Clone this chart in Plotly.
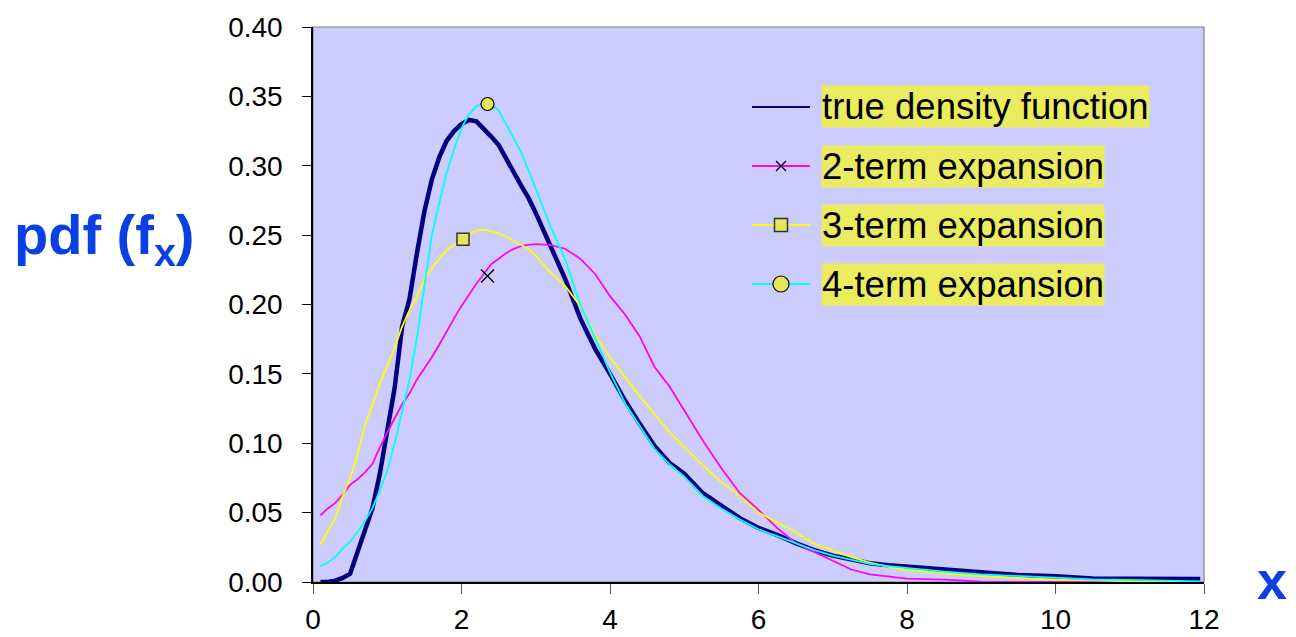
import plotly.graph_objects as go

# ---------------- data ----------------
x_vals = [0.1, 0.2, 0.3, 0.4, 0.5, 0.6, 0.7, 0.8, 0.9, 1.0, 1.1, 1.2, 1.3, 1.4, 1.5,
          1.6, 1.7, 1.8, 1.9, 2.0, 2.1, 2.2, 2.3, 2.4, 2.5, 2.6, 2.7, 2.8, 2.9, 3.0,
          3.2, 3.4, 3.6, 3.8, 4.0, 4.2, 4.4, 4.6, 4.8, 5.0, 5.25, 5.5, 5.75, 6.0,
          6.25, 6.5, 6.75, 7.0, 7.25, 7.5, 7.75, 8.0, 8.5, 9.0, 9.5, 10.0, 10.5,
          11.0, 11.5, 11.95]

true_density = [0.000, 0.000, 0.001, 0.003, 0.006, 0.022, 0.037, 0.053, 0.078, 0.108,
                0.140, 0.184, 0.204, 0.237, 0.267, 0.290, 0.306, 0.318, 0.325, 0.330,
                0.333, 0.332, 0.327, 0.321, 0.315, 0.305, 0.295, 0.286, 0.277, 0.266,
                0.242, 0.218, 0.190, 0.168, 0.150, 0.131, 0.114, 0.098, 0.086, 0.078,
                0.064, 0.055, 0.046, 0.039, 0.034, 0.028, 0.023, 0.019, 0.016, 0.0135,
                0.012, 0.011, 0.009, 0.0065, 0.005, 0.0042, 0.0026, 0.0024, 0.0023, 0.0022]

two_term = [0.048, 0.053, 0.057, 0.063, 0.070, 0.074, 0.079, 0.085, 0.097, 0.108,
            0.118, 0.128, 0.136, 0.146, 0.154, 0.162, 0.171, 0.181, 0.190, 0.199,
            0.207, 0.215, 0.222, 0.229, 0.233, 0.237, 0.240, 0.242, 0.243, 0.2435,
            0.243, 0.240, 0.233, 0.222, 0.206, 0.193, 0.177, 0.155, 0.141, 0.124,
            0.102, 0.082, 0.064, 0.052, 0.039, 0.028, 0.0216, 0.0156, 0.009, 0.0055,
            0.004, 0.0025, 0.0017, 0.0003, 0.0, 0.0, 0.0, 0.0, 0.0, 0.0]

three_term = [0.027, 0.036, 0.046, 0.062, 0.075, 0.092, 0.113, 0.128, 0.143, 0.156,
              0.169, 0.184, 0.196, 0.206, 0.218, 0.226, 0.233, 0.239, 0.243, 0.247,
              0.251, 0.253, 0.254, 0.253, 0.251, 0.249, 0.246, 0.243, 0.240, 0.235,
              0.223, 0.213, 0.199, 0.178, 0.162, 0.148, 0.134, 0.121, 0.108, 0.097,
              0.084, 0.072, 0.062, 0.050, 0.043, 0.036, 0.0276, 0.023, 0.018, 0.014,
              0.011, 0.009, 0.0062, 0.0043, 0.0027, 0.0015, 0.0011, 0.0003, 0.0, 0.0]

four_term = [0.0115, 0.014, 0.018, 0.024, 0.029, 0.036, 0.044, 0.053, 0.066, 0.080,
             0.100, 0.123, 0.146, 0.176, 0.212, 0.250, 0.273, 0.295, 0.312, 0.327,
             0.337, 0.343, 0.345, 0.344, 0.340, 0.330, 0.320, 0.310, 0.297, 0.283,
             0.256, 0.232, 0.200, 0.176, 0.151, 0.129, 0.112, 0.096, 0.085, 0.076,
             0.062, 0.053, 0.045, 0.038, 0.033, 0.028, 0.023, 0.019, 0.016, 0.013,
             0.0115, 0.010, 0.0075, 0.0055, 0.0042, 0.0032, 0.0018, 0.0015, 0.0012, 0.0005]

# single marker points drawn on each expansion curve
marker_x = [2.35, 2.02, 2.35]
marker_y = [0.2205, 0.247, 0.3445]

series_names = ["true density function", "2-term expansion",
                "3-term expansion", "4-term expansion"]
x_ticks = [0, 2, 4, 6, 8, 10, 12]
y_ticks = [0.00, 0.05, 0.10, 0.15, 0.20, 0.25, 0.30, 0.35, 0.40]

# ---------------- style ----------------
NAVY, MAGENTA, YELLOW, CYAN = "#000080", "#FF00FF", "#FFFF00", "#00FFFF"
PLOT_BG = "#CCCCFF"
LEG_BG = "#EBEB60"
MARK_FILL = "#E6E65C"
BLUE = "#0B3FE6"
FONT = "Arial, Liberation Sans, sans-serif"

W, H = 1296, 637
L, R, T, B = 313, 1204, 27, 582


def pxx(px):
    return (px - L) / (R - L)


def pyy(py):
    return (B - py) / (B - T)


fig = go.Figure()

fig.add_trace(go.Scatter(x=x_vals, y=true_density, mode="lines", name=series_names[0],
                         line=dict(color=NAVY, width=4.5)))
fig.add_trace(go.Scatter(x=x_vals, y=two_term, mode="lines", name=series_names[1],
                         line=dict(color=MAGENTA, width=1.8)))
fig.add_trace(go.Scatter(x=x_vals, y=three_term, mode="lines", name=series_names[2],
                         line=dict(color=YELLOW, width=1.8)))
fig.add_trace(go.Scatter(x=x_vals, y=four_term, mode="lines", name=series_names[3],
                         line=dict(color=CYAN, width=1.8)))

# markers
fig.add_trace(go.Scatter(x=[marker_x[0]], y=[marker_y[0]], mode="markers", showlegend=False,
                         marker=dict(symbol="x-thin", size=13, line=dict(color="black", width=1.3))))
fig.add_trace(go.Scatter(x=[marker_x[1]], y=[marker_y[1]], mode="markers", showlegend=False,
                         marker=dict(symbol="square", size=12, color=MARK_FILL,
                                     line=dict(color="#333333", width=1.5))))
fig.add_trace(go.Scatter(x=[marker_x[2]], y=[marker_y[2]], mode="markers", showlegend=False,
                         marker=dict(symbol="circle", size=13, color=MARK_FILL,
                                     line=dict(color="black", width=1.2))))

shapes = []
# plot area border (gray), drawn below
shapes.append(dict(type="rect", xref="paper", yref="paper", x0=0, x1=1, y0=0, y1=1,
                   line=dict(color="#808080", width=1.2), fillcolor=PLOT_BG, layer="below"))

# custom legend
row_y = [107, 166, 225, 284]
row_col = [NAVY, MAGENTA, YELLOW, CYAN]
annotations = []
for i in range(4):
    yy = pyy(row_y[i])
    shapes.append(dict(type="line", xref="paper", yref="paper",
                       x0=pxx(752), x1=pxx(810), y0=yy, y1=yy,
                       line=dict(color=row_col[i], width=2)))
    annotations.append(dict(xref="paper", yref="paper", x=pxx(821), y=yy,
                            xanchor="left", yanchor="middle", showarrow=False,
                            text=series_names[i], bgcolor=LEG_BG, borderpad=0,
                            font=dict(family=FONT, size=36.5, color="black")))

# x symbol
d = 5
cy = row_y[1]
shapes.append(dict(type="line", xref="paper", yref="paper", x0=pxx(781 - d), x1=pxx(781 + d),
                   y0=pyy(cy - d), y1=pyy(cy + d), line=dict(color="black", width=1.2)))
shapes.append(dict(type="line", xref="paper", yref="paper", x0=pxx(781 - d), x1=pxx(781 + d),
                   y0=pyy(cy + d), y1=pyy(cy - d), line=dict(color="black", width=1.2)))
# square symbol
s = 6.5
cy = row_y[2]
shapes.append(dict(type="rect", xref="paper", yref="paper", x0=pxx(781 - s), x1=pxx(781 + s),
                   y0=pyy(cy + s), y1=pyy(cy - s), fillcolor=MARK_FILL,
                   line=dict(color="#333333", width=1.5)))
# circle symbol
rr = 8
cy = row_y[3]
shapes.append(dict(type="circle", xref="paper", yref="paper", x0=pxx(781 - rr), x1=pxx(781 + rr),
                   y0=pyy(cy + rr), y1=pyy(cy - rr), fillcolor=MARK_FILL,
                   line=dict(color="black", width=1.2)))

# axis titles
annotations.append(dict(xref="paper", yref="paper", x=pxx(12), y=pyy(238),
                        xanchor="left", yanchor="middle", showarrow=False,
                        text="pdf (f<sub>x</sub>)",
                        font=dict(family=FONT, size=56, color=BLUE, weight="bold")))
annotations.append(dict(xref="paper", yref="paper", x=pxx(1272), y=pyy(580),
                        xanchor="center", yanchor="middle", showarrow=False,
                        text="x",
                        font=dict(family=FONT, size=54, color=BLUE, weight="bold")))

fig.update_layout(
    width=W, height=H, autosize=False,
    margin=dict(l=L, r=W - R, t=T, b=H - B, pad=0, autoexpand=False),
    paper_bgcolor="white", plot_bgcolor=PLOT_BG,
    showlegend=False,
    shapes=shapes, annotations=annotations,
    font=dict(family=FONT, size=28, color="black"),
)
fig.update_xaxes(range=[0, 12], tickvals=x_ticks, ticktext=[str(v) for v in x_ticks],
                 showgrid=False, zeroline=False, showline=True, linecolor="black", linewidth=1.5,
                 ticks="outside", ticklen=10, tickcolor="#555555", tickwidth=1.2, automargin=False,
                 tickfont=dict(family=FONT, size=28, color="black"), ticklabelstandoff=2)
fig.update_yaxes(range=[0, 0.4], tickvals=y_ticks, ticktext=["%.2f" % v for v in y_ticks],
                 showgrid=False, zeroline=False, showline=True, linecolor="black", linewidth=1.5,
                 ticks="outside", ticklen=9, tickcolor="black", tickwidth=1.2, automargin=False,
                 tickfont=dict(family=FONT, size=28, color="black"), ticklabelstandoff=14)

fig.write_html("out.html", config={"displayModeBar": False},
               post_script="document.body.style.margin='0';document.body.style.overflow='hidden';")
